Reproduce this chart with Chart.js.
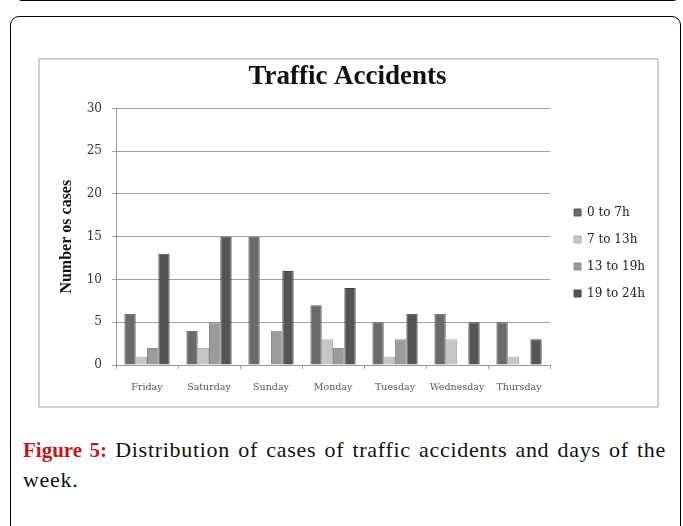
<!DOCTYPE html>
<html>
<head>
<meta charset="utf-8">
<script src="https://cdn.jsdelivr.net/npm/chart.js@4/dist/chart.umd.min.js"></script>
<style>
  body { margin: 0; width: 683px; height: 526px; position: relative; overflow: hidden; background: #fff; }
  #prev { position: absolute; left: 14px; top: -20px; width: 665px; height: 19px; border: 1.5px solid #000; border-radius: 0 0 8px 8px; }
  #frame { position: absolute; left: 10px; top: 16px; width: 669px; height: 600px; border: 1.5px solid #000; border-radius: 9px 9px 0 0; }
  #box { position: absolute; left: 38px; top: 58px; width: 617px; height: 346px; border: 2px solid #d0d0d0; }
  #box canvas { display: block; }
  #caption { position: absolute; left: 23px; top: 435px; width: 643px; font-family: "Liberation Serif", serif; font-size: 22px; letter-spacing: 0.7px; line-height: 29px; color: #111; }
  #caption .first { text-align: justify; text-align-last: justify; white-space: nowrap; }
  #caption b { color: #c4161c; letter-spacing: 0; font-size: 21px; }
</style>
</head>
<body>
<div id="prev"></div>
<div id="frame"></div>
<div id="box"><canvas id="accidentsChart" width="617" height="346"></canvas></div>
<div id="caption">
  <div class="first"><b>Figure 5:</b> Distribution of cases of traffic accidents and days of the</div>
  <div>week.</div>
</div>
<script>
const days = ['Friday', 'Saturday', 'Sunday', 'Monday', 'Tuesday', 'Wednesday', 'Thursday'];
const slotNames = ['0 to 7h', '7 to 13h', '13 to 19h', '19 to 24h'];
const slot0to7 = [6, 4, 15, 7, 5, 6, 5];
const slot7to13 = [1, 2, 0, 3, 1, 3, 1];
const slot13to19 = [2, 5, 4, 2, 3, 0, 0];
const slot19to24 = [13, 15, 11, 9, 6, 5, 3];
const yMin = 0, yMax = 30, yStep = 5;

const fills = ['#6a6a6a', '#c6c6c6', '#9b9b9b', '#555555'];
const edges = ['#5a5a5a', '#b0b0b0', '#8a8a8a', '#474747'];

const ctx = document.getElementById('accidentsChart').getContext('2d');

const accidentsChart = new Chart(ctx, {
  type: 'bar',
  data: {
    labels: days,
    datasets: [slot0to7, slot7to13, slot13to19, slot19to24].map((values, i) => ({
      label: slotNames[i],
      data: values,
      backgroundColor: fills[i],
      borderColor: edges[i],
      borderWidth: 1,
      categoryPercentage: 0.73,
      barPercentage: 1.0
    }))
  },
  options: {
    responsive: false,
    devicePixelRatio: 1,
    animation: false,
    layout: { padding: { left: 0, right: 2, top: 0, bottom: 0 } },
    plugins: {
      title: {
        display: true,
        text: 'Traffic Accidents',
        color: '#111',
        font: { family: 'Liberation Serif', size: 27, weight: 'bold' },
        padding: { top: 1, bottom: 15 }
      },
      legend: {
        position: 'right',
        // empty title only pushes the centred items a bit lower
        title: { display: true, text: '', font: { size: 10 }, padding: { top: 28, bottom: 0 } },
        labels: {
          boxWidth: 7,
          boxHeight: 7,
          padding: 15,
          color: '#222',
          font: { family: 'DejaVu Serif', size: 12 }
        }
      },
      tooltip: { enabled: false }
    },
    scales: {
      x: {
        grid: { display: true, drawOnChartArea: false, tickLength: 4, color: '#999' },
        border: { color: '#999' },
        ticks: {
          color: '#555', padding: 13, maxRotation: 0, minRotation: 0, autoSkip: false,
          font: { family: 'DejaVu Serif', size: 9.5 }
        },
        afterFit: (scale) => { scale.height = 41; }
      },
      y: {
        min: yMin,
        max: yMax,
        ticks: { stepSize: yStep, color: '#333', padding: 10, font: { family: 'DejaVu Serif', size: 12 } },
        grid: { color: '#a0a0a0', tickLength: 4 },
        border: { color: '#999' },
        title: {
          display: true,
          text: 'Number os cases',
          color: '#111',
          font: { family: 'Liberation Serif', size: 16, weight: 'bold' },
          padding: { top: 17, bottom: 0 }
        },
        afterFit: (scale) => { scale.width = 76; }
      },
      // empty scale that only keeps a gap between the plot and the legend
      gap: {
        type: 'linear',
        position: 'right',
        display: true,
        grid: { display: false },
        border: { display: false },
        ticks: { display: false },
        afterFit: (scale) => { scale.width = 9; }
      }
    }
  }
});
</script>
</body>
</html>
